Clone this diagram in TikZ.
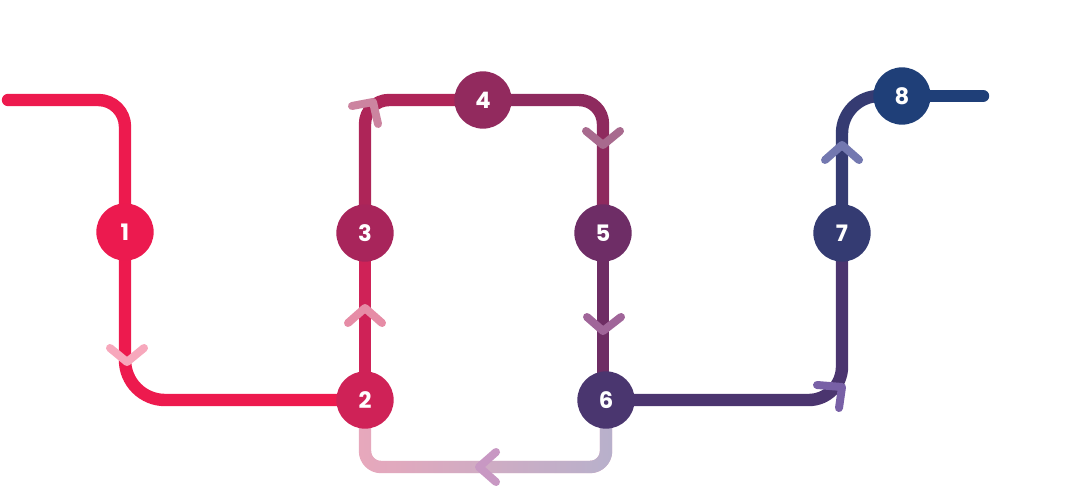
\documentclass[tikz,border=0pt]{standalone}
\usepackage{fontspec}
\setmainfont{Poppins}
\usetikzlibrary{fadings}
\definecolor{cA}{HTML}{ED1A4E}
\definecolor{c23}{HTML}{CF2257}
\definecolor{c34}{HTML}{AE2558}
\definecolor{c45}{HTML}{8E2A5E}
\definecolor{c56}{HTML}{6E2D64}
\definecolor{c67}{HTML}{4B356F}
\definecolor{c78}{HTML}{353B72}
\definecolor{c8e}{HTML}{1F3F78}
\definecolor{bL}{HTML}{E8A8BC}
\definecolor{bR}{HTML}{B8B1CC}
\definecolor{n1c}{HTML}{EC1A4F}
\definecolor{n2c}{HTML}{CF2257}
\definecolor{n3c}{HTML}{A8255B}
\definecolor{n4c}{HTML}{922A5E}
\definecolor{n5c}{HTML}{6E2D66}
\definecolor{n6c}{HTML}{4A366F}
\definecolor{n7c}{HTML}{343B72}
\definecolor{n8c}{HTML}{1F3F78}
\definecolor{k1}{HTML}{F7A8BC}
\definecolor{k2}{HTML}{E68CA6}
\definecolor{k3}{HTML}{CC84A0}
\definecolor{k4}{HTML}{A86A8E}
\definecolor{k5}{HTML}{A06599}
\definecolor{k6}{HTML}{C898C3}
\definecolor{k7}{HTML}{7860A6}
\definecolor{k8}{HTML}{7378B0}
\tikzfading[name=fadeltr, left color=transparent!100, right color=transparent!0]
\pgfdeclarelayer{bg}
\pgfsetlayers{bg,main}
\begin{document}
\begin{tikzpicture}[x=0.75pt,y=-0.75pt,
  track/.style={line width=9.3pt, line cap=round, line join=round},
  stop/.style={circle, minimum size=43pt, inner sep=0pt, text=white,
    font=\bfseries\fontsize{17}{17}\selectfont},
  chev/.style={line width=6pt, line cap=round, line join=round}]
\useasboundingbox (0,0) rectangle (1069,488);
% stops
\node[stop, fill=n1c] (n1) at (125,232) {1};
\node[stop, fill=n2c] (n2) at (365,400) {2};
\node[stop, fill=n3c] (n3) at (365,233) {3};
\node[stop, fill=n4c] (n4) at (483,100) {4};
\node[stop, fill=n5c] (n5) at (603,233) {5};
\node[stop, fill=n6c] (n6) at (606,400) {6};
\node[stop, fill=n7c] (n7) at (842,233) {7};
\node[stop, fill=n8c] (n8) at (902,96) {8};
\coordinate (start) at (8,100);
\coordinate (finish) at (983,96);
\coordinate (bot) at (480,467);
% tracks
\begin{pgfonlayer}{bg}
\draw[track, cA, rounded corners=20] (start) -| (n1.center);
\draw[track, cA, rounded corners=30] (n1.center) |- (n2.center);
\draw[track, c23] (n2.center) -- (n3.center);
\draw[track, c34, rounded corners=18] (n3.center) |- (n4.center);
\draw[track, c45, rounded corners=18] (n4.center) -| (n5.center);
\draw[track, c56] (n5.center) -- (n5.center |- n6.center);
\draw[track, bL, rounded corners=12] (n2.center) |- (bot) -| (n6.center);
\draw[track, bR, rounded corners=12, path fading=fadeltr] (n2.center) |- (bot) -| (n6.center);
\draw[track, c67, rounded corners=25] (n6.center) -| (n7.center);
\draw[track, c78, rounded corners=28] (n7.center) |- (n8.center);
\draw[track, c8e] (n8.center) -- (finish);
\end{pgfonlayer}
% direction chevrons
\draw[chev, k1] (110,348) -- (127,362) -- (144,348);
\draw[chev, k2] (348,323) -- (365,308) -- (382,323);
\draw[chev, k3] (352,106) -- (373,102) -- (378,124);
\draw[chev, k4] (586,131) -- (603,145) -- (620,131);
\draw[chev, k5] (587,317) -- (603,331) -- (621,317);
\draw[chev, k6] (496,452) -- (479,467) -- (496,482);
\draw[chev, k7] (817,385) -- (842,387) -- (839,408);
\draw[chev, k8] (825,160) -- (842,145) -- (859,160);
\end{tikzpicture}
\end{document}
